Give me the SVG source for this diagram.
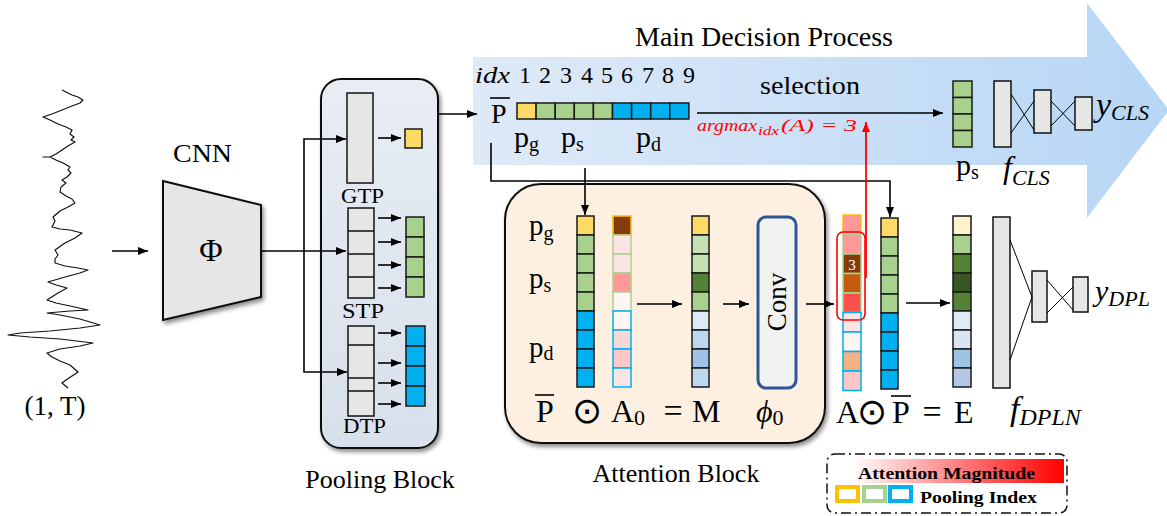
<svg xmlns="http://www.w3.org/2000/svg" width="1167" height="516" viewBox="0 0 1167 516">
<defs>
<linearGradient id="bigArrow" x1="473" y1="0" x2="1167" y2="0" gradientUnits="userSpaceOnUse">
<stop offset="0" stop-color="#dfeaf8"/><stop offset="1" stop-color="#b7d6f5"/>
</linearGradient>
<linearGradient id="poolG" x1="0" y1="0" x2="0" y2="1">
<stop offset="0" stop-color="#e8edf4"/><stop offset="1" stop-color="#d8e0eb"/>
</linearGradient>
<linearGradient id="attnG" x1="0" y1="0" x2="1" y2="0">
<stop offset="0" stop-color="#ffffff"/><stop offset="1" stop-color="#ff0000"/>
</linearGradient>
<filter id="sh" x="-10%" y="-10%" width="130%" height="130%">
<feDropShadow dx="2" dy="3" stdDeviation="2" flood-color="#000" flood-opacity="0.45"/>
</filter>
<marker id="ah" viewBox="0 0 10 8" refX="10" refY="4" markerWidth="10" markerHeight="8" markerUnits="userSpaceOnUse" orient="auto">
<path d="M0,0 L10,4 L0,8 z" fill="#000"/>
</marker>
<marker id="ahr" viewBox="0 0 10 8" refX="10" refY="4" markerWidth="10" markerHeight="8" markerUnits="userSpaceOnUse" orient="auto">
<path d="M0,0 L10,4 L0,8 z" fill="#ff0000"/>
</marker>
<style>
text{font-family:"Liberation Serif","Times New Roman",serif;fill:#000}
.it{font-style:italic}
.c{stroke:#1a1a1a;stroke-width:1.5}
.y{fill:#ffd966}.g{fill:#a9d18e}.b{fill:#00b0f0}
.fc{fill:#e7e6e6;stroke:#111;stroke-width:1.5}
.ln{stroke:#000;stroke-width:1.6;fill:none}
.thin{stroke:#000;stroke-width:1;fill:none}
.by{stroke:#ffc000;stroke-width:1.5}.bg{stroke:#a9d18e;stroke-width:1.5}.bb{stroke:#00b0f0;stroke-width:1.5}
.sym{font-family:"DejaVu Sans",sans-serif}
</style>
</defs>

<g id="main-decision">
<path d="M473,57 L1087,57 L1087,3 L1169,110 L1087,218 L1087,165 L473,165 Z" fill="url(#bigArrow)"/>
<text x="635" y="46" font-size="27" textLength="258" lengthAdjust="spacingAndGlyphs">Main Decision Process</text>
<text x="475" y="83" font-size="24" class="it" textLength="35" lengthAdjust="spacingAndGlyphs">idx</text>
<g font-size="24" text-anchor="middle">
<text x="525" y="83">1</text><text x="545" y="83">2</text><text x="566" y="83">3</text><text x="587" y="83">4</text><text x="607" y="83">5</text><text x="627" y="83">6</text><text x="648" y="83">7</text><text x="668" y="83">8</text><text x="689" y="83">9</text>
</g>
<text x="491" y="123" font-size="28">P</text>
<line x1="490" y1="98" x2="510" y2="98" stroke="#000" stroke-width="1.6"/>
<g class="c">
<rect x="517" y="103" width="19.1" height="16" class="y"/>
<rect x="536.1" y="103" width="19.1" height="16" class="g"/>
<rect x="555.2" y="103" width="19.1" height="16" class="g"/>
<rect x="574.3" y="103" width="19.1" height="16" class="g"/>
<rect x="593.4" y="103" width="19.1" height="16" class="g"/>
<rect x="612.5" y="103" width="19.1" height="16" class="b"/>
<rect x="631.6" y="103" width="19.1" height="16" class="b"/>
<rect x="650.7" y="103" width="19.1" height="16" class="b"/>
<rect x="669.8" y="103" width="19.1" height="16" class="b"/>
</g>
<text x="514" y="147" font-size="30">p<tspan font-size="20" dy="4">g</tspan></text>
<text x="561" y="147" font-size="30">p<tspan font-size="20" dy="4">s</tspan></text>
<text x="636" y="147" font-size="30">p<tspan font-size="20" dy="4">d</tspan></text>
<text x="760" y="94" font-size="26" textLength="100" lengthAdjust="spacingAndGlyphs">selection</text>
<text x="697" y="131" font-size="17" class="it" style="fill:#ff0000" textLength="60" lengthAdjust="spacingAndGlyphs">argmax</text>
<text x="758" y="135" font-size="12" class="it" style="fill:#ff0000" textLength="21" lengthAdjust="spacingAndGlyphs">idx</text>
<text x="781" y="131" font-size="17" class="it" style="fill:#ff0000" textLength="76" lengthAdjust="spacingAndGlyphs">(A) = 3</text>
</g>

<g id="cls-head">
<g class="c">
<rect x="953" y="81" width="19" height="16.5" class="g"/>
<rect x="953" y="97.5" width="19" height="16.5" class="g"/>
<rect x="953" y="114" width="19" height="16.5" class="g"/>
<rect x="953" y="130.5" width="19" height="16.5" class="g"/>
</g>
<text x="956" y="175" font-size="30">p<tspan font-size="20" dy="4">s</tspan></text>
<rect x="994" y="81" width="17" height="66" class="fc"/>
<rect x="1034" y="90" width="17" height="43" class="fc"/>
<rect x="1075" y="97" width="17" height="33" class="fc"/>
<line x1="1011" y1="94" x2="1034" y2="130" class="thin"/>
<line x1="1011" y1="133" x2="1034" y2="101" class="thin"/>
<line x1="1051" y1="101" x2="1075" y2="126" class="thin"/>
<line x1="1051" y1="126" x2="1075" y2="101" class="thin"/>
<text x="1096" y="116" font-size="34" class="it">y<tspan font-size="22" dy="4">CLS</tspan></text>
<text x="1003" y="178" font-size="32" class="it">f<tspan font-size="22" dy="7">CLS</tspan></text>
</g>

<g id="input">
<path d="M62,90 L66,92 L72,95 L78,97 L83,100 L80,103 L72,106 L62,110 L52,114 L43,117 L50,120 L58,124 L66,127 L72,130 L70,134 L74,137 L71,140 L75,142 L68,146 L62,150 L56,154 L50,157 L43,157 L50,157 L56,160 L63,163 L70,167 L68,170 L71,173 L67,177 L62,180 L66,183 L61,187 L60,192 L66,196 L72,199 L75,203 L68,207 L60,211 L53,217 L55,221 L52,227 L60,229 L70,230 L82,233 L75,238 L65,243 L55,250 L58,255 L55,259 L55,263 L65,266 L78,268 L88,270 L80,273 L65,277 L48,282 L56,285 L67,288 L58,293 L47,300 L56,303 L70,306 L88,310 L70,311 L47,313 L60,315 L80,319 L100,325 L80,328 L50,331 L20,333 L8,335 L30,337 L60,339 L93,343 L80,346 L60,349 L47,353 L52,357 L60,361 L70,365 L78,372 L72,376 L66,380 L62,383 L68,388" fill="none" stroke="#111" stroke-width="1.2" stroke-linejoin="round"/>
<text x="55" y="415" font-size="27" text-anchor="middle">(1, T)</text>
</g>

<g id="cnn">
<text x="173" y="162" font-size="26" textLength="59" lengthAdjust="spacingAndGlyphs">CNN</text>
<path d="M163,181 L261,205 L261,297 L163,320 Z" fill="#e6e6e6" stroke="#111" stroke-width="2" filter="url(#sh)"/>
<text x="211" y="261" font-size="32" text-anchor="middle">Φ</text>
</g>

<g id="pooling-block">
<rect x="321" y="79" width="117" height="369" rx="20" fill="url(#poolG)" stroke="#111" stroke-width="2" filter="url(#sh)"/>
<rect x="347" y="93" width="26" height="90" fill="#e6e6e6" stroke="#111" stroke-width="1.5"/>
<rect x="405" y="129" width="17" height="19" class="y c"/>
<text x="341" y="203" font-size="20" textLength="43" lengthAdjust="spacingAndGlyphs">GTP</text>
<rect x="348" y="208" width="26" height="90" fill="#e6e6e6" stroke="#111" stroke-width="1.5"/>
<path d="M348,231 H374 M348,254 H374 M348,277 H374" stroke="#111" stroke-width="1.5"/>
<g class="c">
<rect x="406" y="217" width="18" height="20" class="g"/>
<rect x="406" y="237" width="18" height="20" class="g"/>
<rect x="406" y="257" width="18" height="20" class="g"/>
<rect x="406" y="277" width="18" height="20" class="g"/>
</g>
<text x="342" y="318" font-size="20" textLength="42" lengthAdjust="spacingAndGlyphs">STP</text>
<rect x="348" y="326" width="26" height="90" fill="#e6e6e6" stroke="#111" stroke-width="1.5"/>
<path d="M348,345 H374 M348,378 H374 M348,391 H374" stroke="#111" stroke-width="1.5"/>
<g class="c">
<rect x="406" y="326" width="19" height="20" class="b"/>
<rect x="406" y="346" width="19" height="20" class="b"/>
<rect x="406" y="366" width="19" height="20" class="b"/>
<rect x="406" y="386" width="19" height="20" class="b"/>
</g>
<text x="343" y="433" font-size="20" textLength="43" lengthAdjust="spacingAndGlyphs">DTP</text>
<text x="380" y="488" font-size="26" text-anchor="middle">Pooling Block</text>
</g>

<g id="attention-block">
<rect x="505" y="184" width="320" height="259" rx="36" fill="#fdf0e1" stroke="#111" stroke-width="2" filter="url(#sh)"/>
<text x="529" y="235" font-size="29">p<tspan font-size="20" dy="5">g</tspan></text>
<text x="529" y="288" font-size="29">p<tspan font-size="20" dy="4">s</tspan></text>
<text x="529" y="357" font-size="29">p<tspan font-size="20" dy="3">d</tspan></text>
<g class="c">
<rect x="577" y="216" width="17" height="19" class="y"/>
<rect x="577" y="235" width="17" height="19" class="g"/>
<rect x="577" y="254" width="17" height="19" class="g"/>
<rect x="577" y="273" width="17" height="19" class="g"/>
<rect x="577" y="292" width="17" height="19" class="g"/>
<rect x="577" y="311" width="17" height="19" class="b"/>
<rect x="577" y="330" width="17" height="19" class="b"/>
<rect x="577" y="349" width="17" height="19" class="b"/>
<rect x="577" y="368" width="17" height="19" class="b"/>
</g>
<rect x="613" y="216" width="18" height="19" fill="#843c0c" class="by"/>
<rect x="613" y="235" width="18" height="19" fill="#fde4e4" class="bg"/>
<rect x="613" y="254" width="18" height="19" fill="#fde4e4" class="bg"/>
<rect x="613" y="273" width="18" height="19" fill="#ff9999" class="bg"/>
<rect x="613" y="292" width="18" height="19" fill="#fff5f3" class="bg"/>
<rect x="613" y="311" width="18" height="19" fill="#fff5f3" class="bb"/>
<rect x="613" y="330" width="18" height="19" fill="#f8d8d4" class="bb"/>
<rect x="613" y="349" width="18" height="19" fill="#fdc7c7" class="bb"/>
<rect x="613" y="368" width="18" height="19" fill="#fde4e4" class="bb"/>
<g class="c">
<rect x="692" y="216" width="17" height="19" fill="#ffd966"/>
<rect x="692" y="235" width="17" height="19" fill="#c5e0b4"/>
<rect x="692" y="254" width="17" height="19" fill="#c5e0b4"/>
<rect x="692" y="273" width="17" height="19" fill="#548235"/>
<rect x="692" y="292" width="17" height="19" fill="#a9d18e"/>
<rect x="692" y="311" width="17" height="19" fill="#deebf7"/>
<rect x="692" y="330" width="17" height="19" fill="#bdd7ee"/>
<rect x="692" y="349" width="17" height="19" fill="#9dc3e6"/>
<rect x="692" y="368" width="17" height="19" fill="#bdd7ee"/>
</g>
<rect x="758" y="217" width="38" height="171" rx="8" fill="#f2f2f2" stroke="#2f5597" stroke-width="3"/>
<text x="0" y="0" font-size="27" text-anchor="middle" transform="translate(786,302) rotate(-90)">Conv</text>
<text x="536" y="422" font-size="32">P</text>
<line x1="535" y1="395" x2="554" y2="395" stroke="#000" stroke-width="1.6"/>
<text x="587" y="423" font-size="36" class="sym" text-anchor="middle">⊙</text>
<text x="611" y="422" font-size="32">A<tspan font-size="22" dy="3">0</tspan></text>
<text x="673" y="422" font-size="34" text-anchor="middle">=</text>
<text x="692" y="422" font-size="32">M</text>
<text x="756" y="422" font-size="32" class="it">ϕ<tspan font-size="22" dy="3" font-style="normal">0</tspan></text>
<text x="676" y="482" font-size="26" text-anchor="middle">Attention Block</text>
</g>

<g id="dpl-head">
<rect x="843" y="215" width="18" height="19.5" fill="#ff9999" class="by"/>
<rect x="843" y="234.5" width="18" height="19.5" fill="#ff9999" class="bg"/>
<rect x="843" y="254" width="18" height="19.5" fill="#843c0c" class="bg"/>
<rect x="843" y="273.5" width="18" height="19.5" fill="#c55a11" class="bg"/>
<rect x="843" y="293" width="18" height="19.5" fill="#ff5050" class="bg"/>
<rect x="843" y="312.5" width="18" height="19.5" fill="#fde4e4" class="bb"/>
<rect x="843" y="332" width="18" height="19.5" fill="#fff5f3" class="bb"/>
<rect x="843" y="351.5" width="18" height="19.5" fill="#f4b183" class="bb"/>
<rect x="843" y="371" width="18" height="19.5" fill="#fdc7c7" class="bb"/>
<text x="852" y="270" font-size="15" text-anchor="middle" style="fill:#ffffff">3</text>
<rect x="837" y="232" width="28" height="88" rx="6" fill="none" stroke="#ff0000" stroke-width="1.6"/>
<g class="c">
<rect x="881" y="218" width="17" height="19" class="y"/>
<rect x="881" y="237" width="17" height="19" class="g"/>
<rect x="881" y="256" width="17" height="19" class="g"/>
<rect x="881" y="275" width="17" height="19" class="g"/>
<rect x="881" y="294" width="17" height="19" class="g"/>
<rect x="881" y="313" width="17" height="19" class="b"/>
<rect x="881" y="332" width="17" height="19" class="b"/>
<rect x="881" y="351" width="17" height="19" class="b"/>
<rect x="881" y="370" width="17" height="19" class="b"/>
</g>
<g class="c">
<rect x="953" y="216" width="18" height="19" fill="#fff2cc"/>
<rect x="953" y="235" width="18" height="19" fill="#a9d18e"/>
<rect x="953" y="254" width="18" height="19" fill="#548235"/>
<rect x="953" y="273" width="18" height="19" fill="#385723"/>
<rect x="953" y="292" width="18" height="19" fill="#548235"/>
<rect x="953" y="311" width="18" height="19" fill="#deebf7"/>
<rect x="953" y="330" width="18" height="19" fill="#dae3f3"/>
<rect x="953" y="349" width="18" height="19" fill="#9dc3e6"/>
<rect x="953" y="368" width="18" height="19" fill="#b4c7e7"/>
</g>
<rect x="993" y="217" width="17" height="171" class="fc"/>
<rect x="1032" y="271" width="15" height="51" class="fc"/>
<rect x="1073" y="277" width="15" height="35" class="fc"/>
<line x1="1010" y1="240" x2="1032" y2="297" class="thin"/>
<line x1="1010" y1="360" x2="1032" y2="297" class="thin"/>
<line x1="1047" y1="280" x2="1073" y2="310" class="thin"/>
<line x1="1047" y1="313" x2="1073" y2="287" class="thin"/>
<text x="1095" y="301" font-size="30" class="it">y<tspan font-size="22" dy="5">DPL</tspan></text>
<text x="836" y="423" font-size="32">A</text>
<text x="872" y="424" font-size="36" class="sym" text-anchor="middle">⊙</text>
<text x="892" y="423" font-size="32">P</text>
<line x1="891" y1="396" x2="911" y2="396" stroke="#000" stroke-width="1.6"/>
<text x="932" y="423" font-size="34" text-anchor="middle">=</text>
<text x="954" y="423" font-size="32">E</text>
<text x="1010" y="420" font-size="34" class="it">f<tspan font-size="24" dy="5">DPLN</tspan></text>
</g>

<g id="legend">
<rect x="827" y="454" width="240" height="59" rx="8" fill="none" stroke="#111" stroke-width="1.5" stroke-dasharray="10,4,2,4"/>
<rect x="852" y="459" width="212" height="24" fill="url(#attnG)"/>
<text x="858" y="479" font-size="17" font-weight="bold" textLength="177" lengthAdjust="spacingAndGlyphs">Attention Magnitude</text>
<rect x="837" y="487" width="21" height="14" fill="#fff" stroke="#ffc000" stroke-width="4"/>
<rect x="864" y="487" width="21" height="14" fill="#fff" stroke="#a9d18e" stroke-width="4"/>
<rect x="890" y="487" width="21" height="14" fill="#fff" stroke="#00b0f0" stroke-width="4"/>
<text x="920" y="503" font-size="17" font-weight="bold" textLength="117" lengthAdjust="spacingAndGlyphs">Pooling Index</text>
</g>

<g id="connectors">
<line x1="112" y1="251" x2="148" y2="251" class="ln" marker-end="url(#ah)"/>
<line x1="261" y1="251" x2="346" y2="251" class="ln" marker-end="url(#ah)"/>
<path d="M304,251 V139 H346" class="ln" marker-end="url(#ah)"/>
<path d="M304,251 V372 H347" class="ln" marker-end="url(#ah)"/>
<line x1="378" y1="138" x2="401" y2="138" class="ln" marker-end="url(#ah)"/>
<line x1="378" y1="218" x2="401" y2="218" class="ln" marker-end="url(#ah)"/>
<line x1="378" y1="242" x2="401" y2="242" class="ln" marker-end="url(#ah)"/>
<line x1="378" y1="265" x2="401" y2="265" class="ln" marker-end="url(#ah)"/>
<line x1="378" y1="288" x2="401" y2="288" class="ln" marker-end="url(#ah)"/>
<line x1="378" y1="333" x2="401" y2="333" class="ln" marker-end="url(#ah)"/>
<line x1="378" y1="363" x2="401" y2="363" class="ln" marker-end="url(#ah)"/>
<line x1="378" y1="383" x2="401" y2="383" class="ln" marker-end="url(#ah)"/>
<line x1="378" y1="404" x2="401" y2="404" class="ln" marker-end="url(#ah)"/>
<line x1="438" y1="114" x2="477" y2="114" class="ln" marker-end="url(#ah)"/>
<line x1="697" y1="113" x2="943" y2="113" class="ln" marker-end="url(#ah)"/>
<path d="M491,143 V181 H890 V217" class="ln" marker-end="url(#ah)"/>
<line x1="585" y1="168" x2="585" y2="215" class="ln" marker-end="url(#ah)"/>
<line x1="637" y1="304" x2="682" y2="304" class="ln" marker-end="url(#ah)"/>
<line x1="723" y1="304" x2="749" y2="304" class="ln" marker-end="url(#ah)"/>
<line x1="806" y1="304" x2="834" y2="304" class="ln" marker-end="url(#ah)"/>
<line x1="906" y1="303" x2="950" y2="303" class="ln" marker-end="url(#ah)"/>
<line x1="866" y1="278" x2="866" y2="122" stroke="#ff0000" stroke-width="1.8" marker-end="url(#ahr)"/>
</g>
</svg>
